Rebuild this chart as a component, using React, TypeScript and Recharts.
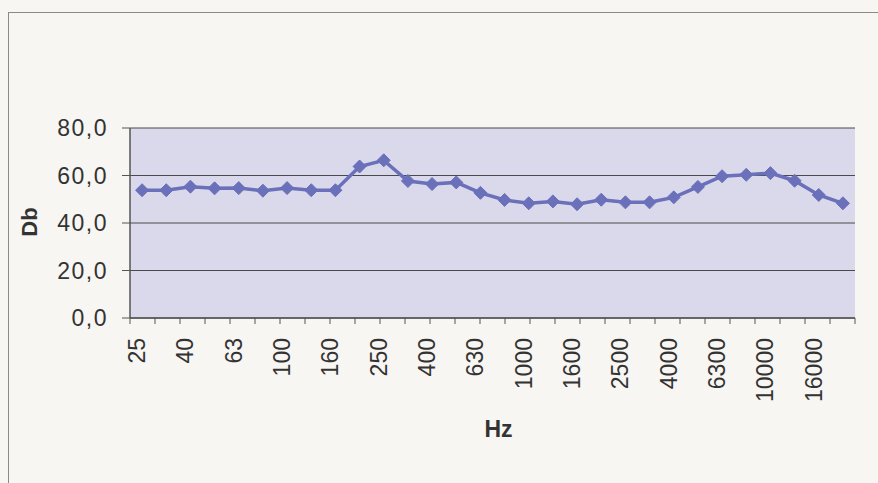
import { CartesianGrid, Line, LineChart, ReferenceLine, XAxis, YAxis } from "recharts";

const frequencies = [
  "25", "31.5", "40", "50", "63", "80", "100", "125", "160", "200",
  "250", "315", "400", "500", "630", "800", "1000", "1250", "1600", "2000",
  "2500", "3150", "4000", "5000", "6300", "8000", "10000", "12500", "16000", "20000",
];

const levels = [
  53.8, 53.8, 55.3, 54.6, 54.7, 53.6, 54.7, 53.8, 53.8, 63.8,
  66.4, 57.7, 56.4, 57.1, 52.7, 49.7, 48.3, 49.1, 47.9, 49.8,
  48.7, 48.7, 50.8, 55.2, 59.7, 60.3, 61.0, 57.8, 51.8, 48.3,
];

const yTicks = [0, 20, 40, 60, 80];
const boundaryTicks = Array.from({ length: frequencies.length + 1 }, (_, i) => i);

const data = frequencies.map((hz, i) => ({ hz, db: levels[i] }));

const LINE = "#6a70b9";
const FONT = "Liberation Sans";

const Diamond = (props: any) => {
  const { cx, cy } = props;
  if (cx == null || cy == null) return null;
  const r = 6.5;
  return (
    <path
      d={`M${cx},${cy - r} L${cx + r},${cy} L${cx},${cy + r} L${cx - r},${cy} Z`}
      fill={LINE}
      stroke={LINE}
      strokeWidth={1}
    />
  );
};

const FreqTick = (props: any) => {
  const { x, y, payload } = props;
  return (
    <text
      x={0}
      y={0}
      transform={`translate(${x + 3},${y + 11}) rotate(-90)`}
      textAnchor="end"
      fontFamily={FONT}
      fontSize={23}
      fill="#333"
    >
      {payload.value}
    </text>
  );
};

const DbLabel = (props: any) => {
  const vb = props.viewBox;
  const cx = vb.x + 37;
  const cy = vb.y + vb.height / 2 - 1;
  return (
    <text
      x={0}
      y={0}
      transform={`translate(${cx},${cy}) rotate(-90)`}
      textAnchor="middle"
      fontFamily={FONT}
      fontSize={22}
      fontWeight="bold"
      fill="#333"
    >
      Db
    </text>
  );
};

export default function App() {
  return (
    <div
      style={{
        position: "absolute",
        left: 0,
        top: 0,
        width: 878,
        height: 483,
        background: "#f7f6f2",
        overflow: "hidden",
        fontFamily: FONT,
      }}
    >
      <div
        style={{
          position: "absolute",
          left: 8,
          top: 12,
          width: 880,
          height: 480,
          borderLeft: "1.5px solid #8a8a8a",
          borderTop: "1.5px solid #8a8a8a",
        }}
      />
      <LineChart
        width={878}
        height={483}
        data={data}
        margin={{ top: 128, right: 23, left: 0, bottom: 40 }}
        style={{ position: "absolute", left: 0, top: 0 }}
      >
        <CartesianGrid
          xAxisId="z"
          horizontal
          vertical={false}
          stroke="#4a4a4a"
          strokeWidth={1}
          fill="#dad9eb"
          fillOpacity={1}
        />
        <XAxis
          xAxisId="a"
          type="number"
          domain={[0, frequencies.length]}
          ticks={boundaryTicks}
          tickFormatter={() => ""}
          height={1}
          tickSize={6}
          stroke="#555"
          axisLine={{ stroke: "#555", strokeWidth: 1.5 }}
          allowDataOverflow
        />
        <XAxis
          xAxisId="z"
          dataKey="hz"
          scale="band"
          interval={1}
          tickLine={false}
          axisLine={false}
          height={124}
          tick={<FreqTick />}
          label={{
            value: "Hz",
            position: "insideBottom",
            offset: 6,
            fontSize: 23,
            fontWeight: "bold",
            fontFamily: FONT,
            fill: "#333",
            dx: 6,
          }}
        />
        <YAxis
          domain={[0, 80]}
          ticks={yTicks}
          width={130}
          tickSize={8}
          tickMargin={14}
          stroke="#555"
          axisLine={{ stroke: "#555", strokeWidth: 1.5 }}
          tickFormatter={(v: number) => v.toFixed(1).replace(".", ",")}
          tick={{ fontSize: 23, fontFamily: FONT, fill: "#333", letterSpacing: 1.5 }}
          label={<DbLabel />}
        />
        <ReferenceLine xAxisId="a" x={frequencies.length} stroke="#9a9a9a" strokeWidth={1.5} />
        <Line
          xAxisId="z"
          dataKey="db"
          stroke={LINE}
          strokeWidth={3.5}
          dot={<Diamond />}
          activeDot={false}
          isAnimationActive={false}
        />
      </LineChart>
    </div>
  );
}
